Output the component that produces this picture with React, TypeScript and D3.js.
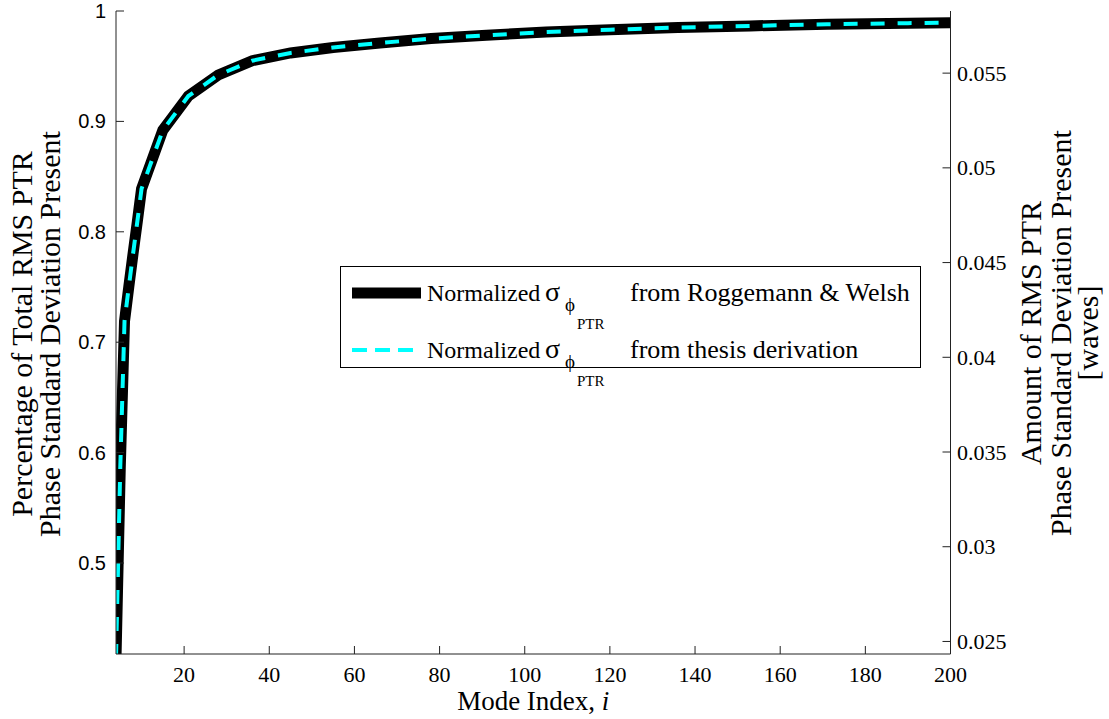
import React from 'react';
import * as d3 from 'd3';

const modeIndex = [4, 5, 6, 7, 8, 9, 10, 15, 21, 28, 36, 45, 55, 66, 78, 91, 105, 120, 136, 153, 171, 190, 200];
const roggemannWelsh = [0.414, 0.586, 0.719, 0.750, 0.780, 0.809, 0.839, 0.892, 0.923, 0.942, 0.955, 0.962, 0.967, 0.971, 0.975, 0.978, 0.981, 0.983, 0.985, 0.9865, 0.988, 0.989, 0.9894];
const thesisDerivation = [0.414, 0.586, 0.719, 0.750, 0.780, 0.809, 0.839, 0.892, 0.923, 0.942, 0.955, 0.962, 0.967, 0.971, 0.975, 0.978, 0.981, 0.983, 0.985, 0.9865, 0.988, 0.989, 0.9894];

const xTicks = [20, 40, 60, 80, 100, 120, 140, 160, 180, 200];
const leftTicks = [0.5, 0.6, 0.7, 0.8, 0.9, 1];
const leftTickLabels = ['0.5', '0.6', '0.7', '0.8', '0.9', '1'];
const rightTicks = [0.025, 0.03, 0.035, 0.04, 0.045, 0.05, 0.055];
const rightTickLabels = ['0.025', '0.03', '0.035', '0.04', '0.045', '0.05', '0.055'];

const xDomain = [4, 200];
const leftDomain = [0.4176, 1];
const rightScaleFactor = 0.05828;

const SERIF = '"Liberation Serif", "Times New Roman", serif';
const SANS = '"Liberation Sans", Arial, sans-serif';

export default function App() {
  const W = 1109, H = 719;
  const L = 116, R = 950.5, T = 11, B = 654;
  const x = d3.scaleLinear().domain(xDomain).range([L, R]);
  const y = d3.scaleLinear().domain(leftDomain).range([B, T]);
  const yR = d3.scaleLinear().domain([leftDomain[0] * rightScaleFactor, leftDomain[1] * rightScaleFactor]).range([B, T]);

  const mkLine = (vals: number[]) =>
    d3.line<number>().x((_, i) => x(modeIndex[i])).y((d) => y(d))(vals) || '';

  const tickLen = 8;
  const axisColor = '#222';

  const legendRow = (base: number, label: string) => (
    <g fontFamily={SERIF} fill="#000">
      <text x={427} y={base} fontSize={24}>Normalized</text>
      <text x={545} y={base} fontSize={28}>σ</text>
      <text x={565} y={base + 10} fontSize={19}>ϕ</text>
      <text x={577} y={base + 28} fontSize={15}>PTR</text>
      <text x={630} y={base} fontSize={26}>{label}</text>
    </g>
  );

  return (
    <svg width={W} height={H} style={{ position: 'absolute', left: 0, top: 0, background: '#fff' }}>
      <defs>
        <clipPath id="plotClip">
          <rect x={L} y={T} width={R - L} height={B - T} />
        </clipPath>
      </defs>
      <rect x={0} y={0} width={W} height={H} fill="#fff" />

      <g clipPath="url(#plotClip)">
        <path d={mkLine(roggemannWelsh)} fill="none" stroke="#000" strokeWidth={11} strokeLinejoin="miter" />
        <path d={mkLine(thesisDerivation)} fill="none" stroke="#00ffff" strokeWidth={4} strokeDasharray="14 13" />
      </g>

      <line x1={L} x2={L} y1={T} y2={B} stroke={axisColor} strokeWidth={1} />
      <line x1={R} x2={R} y1={T} y2={B} stroke={axisColor} strokeWidth={1} />
      <line x1={L} x2={R} y1={B} y2={B} stroke={axisColor} strokeWidth={1} />

      {xTicks.map((t) => (
        <g key={'x' + t}>
          <line x1={x(t)} x2={x(t)} y1={B} y2={B - tickLen} stroke={axisColor} strokeWidth={1} />
          <text x={x(t)} y={682} textAnchor="middle" fontFamily={SERIF} fontSize={22} fill="#000">{t}</text>
        </g>
      ))}

      {leftTicks.map((t, i) => (
        <g key={'l' + t}>
          <line x1={L} x2={L + tickLen} y1={y(t)} y2={y(t)} stroke={axisColor} strokeWidth={1} />
          <text x={106} y={y(t) + 7} textAnchor="end" fontFamily={SANS} fontSize={20} fill="#000">{leftTickLabels[i]}</text>
        </g>
      ))}

      {rightTicks.map((t, i) => (
        <g key={'r' + t}>
          <line x1={R} x2={R - tickLen} y1={yR(t)} y2={yR(t)} stroke={axisColor} strokeWidth={1} />
          <text x={957} y={yR(t) + 7.5} textAnchor="start" fontFamily={SERIF} fontSize={22} fill="#000">{rightTickLabels[i]}</text>
        </g>
      ))}

      <text x={(L + R) / 2} y={710} textAnchor="middle" fontFamily={SERIF} fontSize={27} fill="#000">
        Mode Index, <tspan fontStyle="italic">i</tspan>
      </text>

      <g transform={`translate(0, 334) rotate(-90)`}>
        <text x={0} y={32} textAnchor="middle" fontFamily={SERIF} fontSize={30} fill="#000">Percentage of Total RMS PTR</text>
        <text x={0} y={60} textAnchor="middle" fontFamily={SERIF} fontSize={30} fill="#000">Phase Standard Deviation Present</text>
      </g>

      <g transform={`translate(0, 333) rotate(-90)`}>
        <text x={0} y={1041} textAnchor="middle" fontFamily={SERIF} fontSize={30} fill="#000">Amount of RMS PTR</text>
        <text x={0} y={1071} textAnchor="middle" fontFamily={SERIF} fontSize={30} fill="#000">Phase Standard Deviation Present</text>
        <text x={0} y={1098} textAnchor="middle" fontFamily={SERIF} fontSize={30} fill="#000">[waves]</text>
      </g>

      <rect x={340.5} y={266.5} width={580} height={101} fill="#fff" stroke="#000" strokeWidth={1} />
      <line x1={352} x2={421} y1={293} y2={293} stroke="#000" strokeWidth={11} />
      <line x1={352} x2={421} y1={350} y2={350} stroke="#00ffff" strokeWidth={4} strokeDasharray="15 8" />
      {legendRow(301, 'from Roggemann & Welsh')}
      {legendRow(358, 'from thesis derivation')}
    </svg>
  );
}
